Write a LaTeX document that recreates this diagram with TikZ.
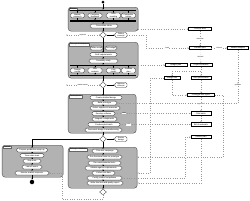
\documentclass[tikz,border=0pt]{standalone}
\usepackage{fontspec}
\setmainfont{Liberation Sans}
\usetikzlibrary{shapes.geometric,arrows.meta}
\newcommand\tinyf{\fontsize{2}{2.3}\selectfont}
\newcommand\tinyl{\fontsize{1.7}{2}\selectfont}
\tikzset{
 act/.style={draw=black!80, fill=white, rounded corners=1.5pt, line width=0.3pt, inner sep=0.5pt, minimum height=3.8pt, font=\tinyf, align=center},
 obj/.style={draw=black, fill=white, line width=0.7pt, inner sep=0.5pt, minimum height=3.4pt, font=\tinyf, align=center},
 grp/.style={draw=black!70, fill=gray!60, rounded corners=3pt, line width=0.4pt, inner sep=0pt, anchor=north west},
 gtitle/.style={fill=white, draw=black!60, line width=0.2pt, inner sep=0.5pt, font=\tinyf, anchor=north west},
 barr/.style={fill=black, inner sep=0pt, minimum height=1.4pt, minimum width=66pt},
 dec/.style={diamond, draw=black!80, fill=white, inner sep=0pt, minimum width=7pt, minimum height=6pt, line width=0.3pt},
 flow/.style={-{Stealth[length=1.2pt,width=1pt]}, line width=0.3pt, draw=black},
 dep/.style={dotted, draw=gray!80, line width=0.3pt, -{Stealth[length=1.3pt,width=1.1pt]}},
 lbl/.style={font=\tinyl, inner sep=0.3pt, fill=white},
}
\begin{document}
\begin{tikzpicture}[x=1pt,y=-1pt]
\useasboundingbox[fill=white] (0,0) rectangle (250,201);
% ---------- groups
\node[grp, minimum width=70pt, minimum height=24pt] (g1) at (68,7) {};
\node[grp, minimum width=70pt, minimum height=36pt] (g2) at (68,42) {};
\node[grp, minimum width=68pt, minimum height=39pt] (g3) at (68,94) {};
\node[grp, minimum width=69pt, minimum height=41pt] (g4) at (68,147) {};
\node[grp, minimum width=61pt, minimum height=32pt] (g5) at (2,145) {};
\node[gtitle] (t1) at ([shift={(1,0.8)}]g1.north west) {Ideation};
\node[gtitle] (t2) at ([shift={(1,0.8)}]g2.north west) {Concept development};
\node[gtitle] (t3) at ([shift={(1,0.8)}]g3.north west) {Development};
\node[gtitle] (t4) at ([shift={(1,0.8)}]g4.north west) {Testing \& Validation};
\node[gtitle] (t5) at ([shift={(1,0.8)}]g5.north west) {Launch};
% ---------- main column
\node[circle, fill=black, inner sep=0pt, minimum size=3pt] (start) at (103,2) {};
\node[barr] (f1) at (103,10.5) {};
\node[act, minimum width=14pt] (a1) at (77.5,15.5) {Market\\research};
\node[act, minimum width=14pt] (a2) at (95,15.5) {Customer\\feedback};
\node[act, minimum width=14pt] (a3) at (113.5,15.5) {Tech\\scouting};
\node[act, minimum width=14pt] (a4) at (128.5,15.5) {Competitor\\review};
\node[barr] (j1) at (103,21) {};
\node[act, minimum width=28pt] (a5) at (104,26) {Consolidate ideas};
\node[dec] (d1) at (103,35) {};
\node[act, minimum width=12pt] (b1) at (121,35) {Refine\\concept};
\coordinate (x1) at (66,35);
\node[act, minimum width=13pt] (a6) at (96.5,48) {Define scope};
\node[act, minimum width=12pt] (a7) at (111,48) {Set budget};
\node[act, minimum width=27pt] (a8) at (103.5,54.5) {Draft requirements};
\node[act, minimum width=29pt] (a9) at (103.5,61) {Feasibility study};
\node[barr] (f2) at (103,65.5) {};
\node[act, minimum width=14pt] (a10) at (77.5,70.5) {Design\\review};
\node[act, minimum width=14pt] (a11) at (95,70.5) {Risk\\analysis};
\node[act, minimum width=14pt] (a12) at (113.5,70.5) {Cost\\model};
\node[act, minimum width=14pt] (a13) at (128.5,70.5) {Timeline\\plan};
\node[barr] (j2) at (103,75.5) {};
\node[dec] (d2) at (103,85) {};
\node[act, minimum width=12pt] (b2) at (121,85) {Approve\\concept};
\coordinate (x2) at (66,85);
\node[act, minimum width=32pt] (c1) at (106,97.5) {Create detailed design};
\node[act, minimum width=25pt] (c2) at (104.5,103) {Build prototype};
\node[act, minimum width=30pt] (c3) at (105,108) {Select suppliers \& materials};
\node[act, minimum width=23pt] (c4) at (103.5,113.5) {Develop software};
\node[act, minimum width=25pt] (c5) at (104.5,119) {Integrate components};
\node[act, minimum width=32pt] (c6) at (104,124.5) {Produce pilot batch};
\node[act, minimum width=37pt] (c7) at (103.5,130) {Document design \& manufacturing};
\node[dec] (d3) at (103,139) {};
\node[act, minimum width=12pt] (b3) at (121,139) {Revise\\design};
\node[act, minimum width=26pt] (e1) at (105,151) {Plan test campaign};
\node[act, minimum width=35pt] (e2) at (104.5,157) {Run functional tests on prototype};
\node[act, minimum width=33pt] (e3) at (104.5,163) {Run environmental tests};
\node[act, minimum width=37pt] (e4) at (103.5,168) {Validate against requirements};
\node[act, minimum width=23pt] (e5) at (103.5,173) {Collect test data};
\node[act, minimum width=35pt] (e6) at (104.5,178) {Certify product compliance};
\node[act, minimum width=36pt] (e7) at (105,183) {Write final test and quality report};
\node[dec] (d4) at (103,192) {};
% launch
\node[act, minimum width=31pt] (l1) at (32,150) {Prepare production ramp-up};
\node[act, minimum width=24pt] (l2) at (32,155.5) {Train sales team};
\node[act, minimum width=18pt] (l3) at (32,161) {Ship units};
\node[act, minimum width=20pt] (l4) at (32,167) {Launch event};
\node[act, minimum width=34pt] (l5) at (32,173) {Monitor market response};
\node[circle, fill=black, inner sep=0pt, minimum size=4.5pt] (end) at (32,182) {};
% ---------- right-side artefacts
\node[obj, minimum width=23pt] (R1) at (200,29) {Concept brief};
\node[obj, minimum width=22pt] (R2) at (200,48) {Product spec};
\node[obj, minimum width=21pt] (R3) at (238,48) {Market analysis};
\node[obj, minimum width=22pt] (R4) at (176,65) {Budget plan};
\node[obj, minimum width=22pt] (R5) at (201,65) {Project schedule};
\node[obj, minimum width=16pt] (R6) at (172,78) {Design files};
\node[obj, minimum width=20pt] (R7) at (201,78) {Test specification};
\node[obj, minimum width=27pt] (R8) at (201,95) {Prototype test report};
\node[obj, minimum width=20pt] (R9) at (201,113.5) {Pilot batch};
\node[obj, minimum width=20pt] (R10) at (201,124.5) {Bill of materials};
\node[obj, minimum width=20pt] (R11) at (201,137) {Launch plan};
\node[lbl] (S) at (238,85) {updates};
% ---------- control flow
\draw[flow] (start) -- (f1);
\foreach \n in {a1,a2,a3,a4}{\draw[flow] (f1.south -| \n) -- (\n.north); \draw[flow] (\n.south) -- (j1.north -| \n);}
\draw[flow] (j1.south -| d1) -- (a5.north -| d1);
\draw[flow] (a5.south -| d1) -- (d1);
\draw[flow] (d1) -- (b1);
\draw[dep] (d1.west) -- node[lbl]{rejected} (x1);
\draw[flow] (d1) -- (a8.north -| d1);
\draw[flow] (a8.south -| d1) -- (a9.north -| d1);
\draw[flow] (a9.south -| d1) -- (f2);
\foreach \n in {a10,a11,a12,a13}{\draw[flow] (f2.south -| \n) -- (\n.north); \draw[flow] (\n.south) -- (j2.north -| \n);}
\draw[flow] (j2) -- (d2);
\draw[flow] (d2) -- (b2);
\draw[dep] (d2.west) -- node[lbl]{needs rework} (x2);
\draw[flow] (d2) -- (c1.north -| d2);
\draw[flow] (c1.south -| d2) -- (c2.north -| d2);
\draw[flow] (c2.south -| d2) -- (c3.north -| d2);
\draw[flow] (c3.south -| d2) -- (c4.north -| d2);
\draw[flow] (c4.south -| d2) -- (c5.north -| d2);
\draw[flow] (c5.south -| d2) -- (c6.north -| d2);
\draw[flow] (c6.south -| d2) -- (c7.north -| d2);
\draw[flow] (c7.south -| d2) -- (d3);
\draw[flow] (d3) -- (b3);
\draw[flow] (d3.west) -| (l1.north);
\draw[flow] (d3) -- (e1.north -| d3);
\draw[flow] (e1.south -| d3) -- (e2.north -| d3);
\draw[flow] (e2.south -| d3) -- (e3.north -| d3);
\draw[flow] (e3.south -| d3) -- (e4.north -| d3);
\draw[flow] (e4.south -| d3) -- (e5.north -| d3);
\draw[flow] (e5.south -| d3) -- (e6.north -| d3);
\draw[flow] (e6.south -| d3) -- (e7.north -| d3);
\draw[flow] (e7.south -| d3) -- (d4);
\draw[flow] (l1) -- (l2);
\draw[flow] (l2) -- (l3);
\draw[flow] (l3) -- (l4);
\draw[flow] (l4) -- (l5);
\draw[flow] (l5) -- (end);
% ---------- object flows
\draw[dep] (g1.east |- R1.west) -- (R1.west);
\draw[dep] (R1) -- node[lbl]{reviewed} (R2);
\draw[dep] (b1.east) -- (146,35) |- node[lbl, pos=0.75]{input} (R2.west);
\draw[dep] (R2) -- node[lbl]{informs} (R3);
\draw[dep] (R2) -- node[lbl]{derived} (R5);
\draw[dep] (g2.east |- R4.west) -- (R4.west);
\draw[dep] (R5.south) -- ++(0,4) -| (R6.north);
\draw[dep] (R5) -- (R7);
\draw[dep] (R6.south) |- (R8.west);
\draw[dep] (R7) -- (R8);
\draw[dep] (R3) -- (S);
\draw[dep] (S.south) |- (c2.east);
\draw[dep] (R8) -- node[lbl]{approved} (R9);
\draw[dep] (R9) -- (R10);
\draw[dep] (c4.east) -- node[lbl, pos=0.12]{uses} (R9.west);
\draw[dep] (c6.east) -- node[lbl, pos=0.12]{yields} (R10.west);
\draw[dep] (R8.east) -- ++(8,0) |- (g4.east |- e2.east);
\draw[dep] (R6.west) -- (150,78) |- (g4.east |- e5.east);
\draw[dep] (R11.south) |- (g4.east |- e7.east);
\draw[dep] (e6.east) -- (185,178) |- (R11.west);
\draw[dep] (d4.south) |- (62,199) |- (l5.east);
\end{tikzpicture}
\end{document}
